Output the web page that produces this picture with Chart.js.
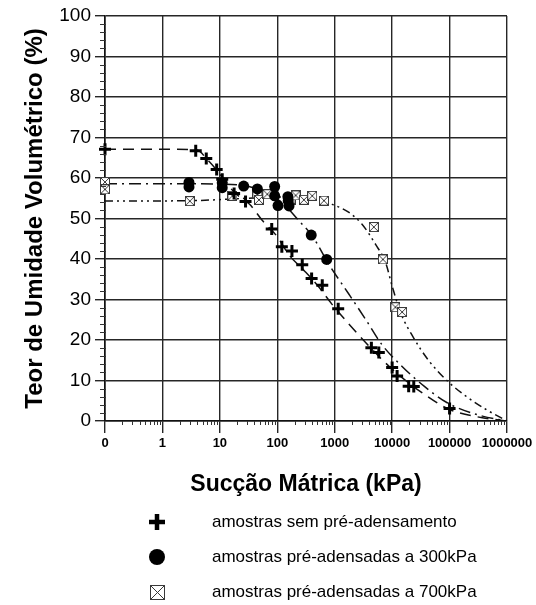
<!DOCTYPE html>
<html>
<head>
<meta charset="utf-8">
<title>Curva característica</title>
<script src="https://cdn.jsdelivr.net/npm/chart.js@4/dist/chart.umd.min.js"></script>
<style>
  html, body { margin: 0; padding: 0; background: #fff; }
  #wrap { width: 536px; height: 605px; }
</style>
</head>
<body>
<div id="wrap"><canvas id="curva" width="536" height="605"></canvas></div>
<script>
// eixo x (sucção, kPa) em escala log; o primeiro traço (0.1) é rotulado "0"
const xTicks = [0.1, 1, 10, 100, 1000, 10000, 100000, 1000000];
const xTickLabels = ['0', '1', '10', '100', '1000', '10000', '100000', '1000000'];

// amostras sem pré-adensamento
const semSuccao = [0.1, 3.8, 5.8, 8.8, 11, 17.7, 28, 80, 120, 180, 272, 396, 607, 1150, 4350, 5860, 10000, 12200, 19400, 23800, 100000];
const semTeor   = [67.1, 66.7, 64.8, 62.1, 59.7, 56.2, 54.2, 47.4, 43.0, 42.0, 38.6, 35.2, 33.5, 27.7, 18.1, 16.9, 13.2, 11.1, 8.6, 8.5, 3.1];

// amostras pré-adensadas a 300kPa
const p300Succao = [2.9, 2.9, 11, 11, 26, 45, 90, 90, 103, 153, 155, 160, 390, 725];
const p300Teor   = [58.9, 57.8, 58.8, 57.6, 58.0, 57.3, 57.9, 55.6, 53.2, 55.4, 54.4, 53.1, 45.9, 39.9];

// amostras pré-adensadas a 700kPa
const p700Succao = [0.1, 0.1, 3, 16.5, 45, 48, 67, 170, 209, 291, 406, 650, 4800, 6900, 11400, 14900];
const p700Teor   = [59.0, 57.2, 54.3, 55.6, 56.0, 54.6, 56.0, 54.6, 55.7, 54.6, 55.6, 54.4, 47.9, 39.9, 28.1, 26.9];

// curvas ajustadas
const ajusteSemX  = [0.1, 1, 4, 6, 9, 12, 18, 33, 55, 100, 160, 300, 500, 900, 3450, 10000, 33000, 98000, 372000, 720000, 1000000];
const ajusteSemY  = [67.1, 67.1, 66.9, 64.6, 61.8, 59.5, 56.4, 53.5, 49.5, 45.5, 41.0, 37.0, 33.5, 28.8, 19.4, 12.8, 7.0, 2.9, 0.8, 0.25, 0];
const ajuste300X  = [0.1, 1, 10, 30, 60, 122, 240, 406, 790, 1770, 3450, 6600, 14600, 36000, 91000, 372000, 1000000];
const ajuste300Y  = [58.6, 58.6, 58.5, 58.0, 56.5, 53.9, 49.4, 45.7, 38.7, 31.3, 25.1, 18.9, 13.6, 8.6, 4.5, 1.2, 0];
const ajuste700X  = [0.1, 3, 30, 100, 360, 900, 1770, 2990, 5150, 7700, 10000, 14000, 22600, 44000, 98000, 190000, 425000, 1000000];
const ajuste700Y  = [54.3, 54.4, 55.0, 55.3, 55.2, 53.5, 51.5, 48.6, 43.6, 39.1, 33.3, 26.8, 21.0, 14.8, 9.5, 6.2, 2.9, 0];

const legendLabels = [
  'amostras sem pré-adensamento',
  'amostras pré-adensadas a 300kPa',
  'amostras pré-adensadas a 700kPa'
];

const FONT = 'Arial, "Liberation Sans", Helvetica, sans-serif';

function pairs(xs, ys) {
  return xs.map((x, i) => ({ x: x, y: ys[i] }));
}

// quadrado com X usado como marcador
function boxCross(size) {
  const c = document.createElement('canvas');
  c.width = size; c.height = size;
  const g = c.getContext('2d');
  g.fillStyle = '#fff';
  g.fillRect(0, 0, size, size);
  g.strokeStyle = '#3a3a3a';
  g.lineWidth = 1;
  g.strokeRect(0.5, 0.5, size - 1, size - 1);
  g.beginPath();
  g.moveTo(1, 1); g.lineTo(size - 1, size - 1);
  g.moveTo(size - 1, 1); g.lineTo(1, size - 1);
  g.stroke();
  return c;
}
const boxMark = boxCross(10);

function drawPlus(ctx, x, y, r, w) {
  ctx.save();
  ctx.strokeStyle = '#000';
  ctx.lineWidth = w;
  ctx.beginPath();
  ctx.moveTo(x - r, y); ctx.lineTo(x + r, y);
  ctx.moveTo(x, y - r); ctx.lineTo(x, y + r);
  ctx.stroke();
  ctx.restore();
}

// marcas secundárias nos eixos e a legenda abaixo do título do eixo x
const extras = {
  id: 'extras',
  afterDraw(chart) {
    const { ctx, chartArea: a, scales: { x, y } } = chart;
    ctx.save();
    ctx.strokeStyle = '#333';
    ctx.lineWidth = 1;
    ctx.beginPath();
    for (let v = 2; v < 100; v += 2) {
      if (v % 10 === 0) continue;
      const py = Math.round(y.getPixelForValue(v)) + 0.5;
      ctx.moveTo(a.left - 5, py); ctx.lineTo(a.left + 1, py);
    }
    for (let d = 0; d < 7; d++) {
      for (let m = 2; m < 10; m++) {
        const px = Math.round(x.getPixelForValue(m * Math.pow(10, d - 1))) + 0.5;
        ctx.moveTo(px, a.bottom); ctx.lineTo(px, a.bottom + 4);
      }
    }
    ctx.stroke();

    // legenda
    const sx = 157, tx = 212, rows = [522, 557, 592];
    drawPlus(ctx, sx, rows[0], 8, 4.5);
    ctx.fillStyle = '#000';
    ctx.beginPath();
    ctx.arc(sx, rows[1], 8, 0, Math.PI * 2);
    ctx.fill();
    const big = boxCross(15);
    ctx.drawImage(big, sx - 7, rows[2] - 7);

    ctx.font = '17px ' + FONT;
    ctx.textBaseline = 'middle';
    ctx.textAlign = 'left';
    ctx.fillStyle = '#000';
    legendLabels.forEach((t, i) => ctx.fillText(t, tx, rows[i]));
    ctx.restore();
  }
};

const curveBase = {
  showLine: true,
  pointRadius: 0,
  borderColor: '#111',
  borderWidth: 1.5,
  cubicInterpolationMode: 'monotone',
  fill: false
};

new Chart(document.getElementById('curva'), {
  type: 'scatter',
  data: {
    datasets: [
      {
        label: legendLabels[0],
        data: pairs(semSuccao, semTeor),
        pointStyle: 'cross',
        pointRadius: 6,
        borderWidth: 3,
        borderColor: '#000',
        clip: false
      },
      {
        label: legendLabels[1],
        data: pairs(p300Succao, p300Teor),
        pointStyle: 'circle',
        pointRadius: 5.5,
        backgroundColor: '#000',
        borderColor: '#000',
        borderWidth: 0,
        clip: false
      },
      {
        label: legendLabels[2],
        data: pairs(p700Succao, p700Teor),
        pointStyle: boxMark,
        clip: false
      },
      Object.assign({ label: 'ajuste sem', data: pairs(ajusteSemX, ajusteSemY), borderDash: [11, 7] }, curveBase),
      Object.assign({ label: 'ajuste 300', data: pairs(ajuste300X, ajuste300Y), borderDash: [12, 5, 2, 5] }, curveBase),
      Object.assign({ label: 'ajuste 700', data: pairs(ajuste700X, ajuste700Y), borderDash: [8, 4, 2, 4, 2, 4] }, curveBase)
    ]
  },
  options: {
    responsive: false,
    animation: false,
    events: [],
    layout: { padding: { top: 16, right: 29, bottom: 104, left: 0 } },
    plugins: {
      legend: { display: false },
      tooltip: { enabled: false }
    },
    scales: {
      x: {
        type: 'logarithmic',
        min: 0.1,
        max: 1000000,
        afterBuildTicks: s => { s.ticks = xTicks.map(v => ({ value: v })); },
        afterFit: s => { s.height = 80; },
        ticks: {
          callback: (v, i) => xTickLabels[i],
          autoSkip: false,
          maxRotation: 0,
          padding: 3,
          color: '#000',
          font: { family: FONT, size: 13, weight: 'bold' }
        },
        grid: { color: '#262626', lineWidth: 1.4, tickLength: 12, tickColor: '#262626' },
        border: { color: '#111', width: 1.6 },
        title: {
          display: true,
          text: 'Sucção Mátrica (kPa)',
          color: '#000',
          font: { family: FONT, size: 23, weight: 'bold' },
          padding: { top: 0, bottom: 3 }
        }
      },
      y: {
        min: 0,
        max: 100,
        afterFit: s => { s.width = 105; },
        ticks: {
          stepSize: 10,
          padding: 4,
          color: '#000',
          font: { family: FONT, size: 19 }
        },
        grid: { color: '#262626', lineWidth: 1.4, tickLength: 10, tickColor: '#262626' },
        border: { color: '#111', width: 1.6 },
        title: {
          display: true,
          text: 'Teor de Umidade Volumétrico (%)',
          color: '#000',
          font: { family: FONT, size: 24, weight: 'bold' },
          padding: { top: 21, bottom: 0 }
        }
      }
    }
  },
  plugins: [extras]
});
</script>
</body>
</html>
